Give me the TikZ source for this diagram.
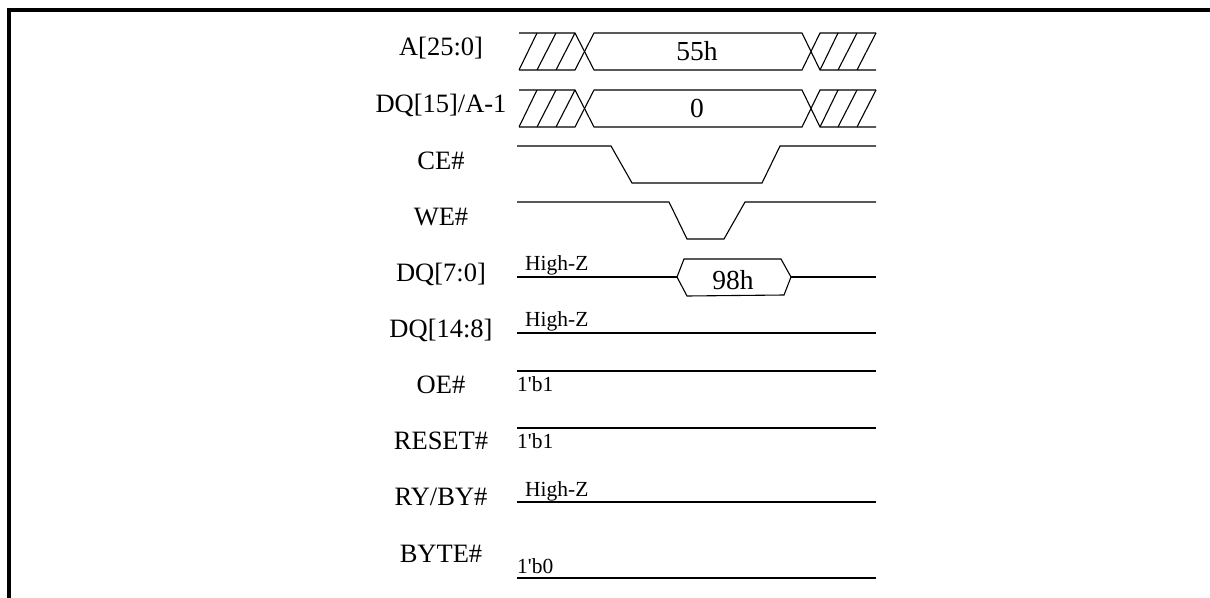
\documentclass[tikz,border=0pt]{standalone}
\usepackage{fontspec}
\setmainfont{Liberation Serif}
\newfontfamily\plainserif{Liberation Serif}
\begin{document}
\begin{tikzpicture}[x=1pt,y=-1pt,
  sig/.style={line width=1.1pt, line join=miter},
  lbl/.style={font=\fontsize{26.5}{30}\selectfont, inner sep=0pt, anchor=base},
  val/.style={font=\fontsize{27.5}{32}\selectfont, inner sep=0pt},
  smalltxt/.style={font=\plainserif\fontsize{21.5}{25}\selectfont, inner sep=0pt, anchor=base west}]
\useasboundingbox (0,0) rectangle (1210,597);
\draw[line width=3.7pt, line join=miter] (9.2,600) -- (9.2,9.8) -- (1212,9.8);

% labels
\node[lbl] (lA)   at (441,55)  {A[25:0]};
\node[lbl] (lDQ15) at (441,112) {DQ[15]/A-1};
\node[lbl] (lCE)  at (441,169) {CE\#};
\node[lbl] (lWE)  at (441,225) {WE\#};
\node[lbl] (lDQ7) at (441,281) {DQ[7:0]};
\node[lbl] (lDQ14) at (441,337) {DQ[14:8]};
\node[lbl] (lOE)  at (441,393) {OE\#};
\node[lbl] (lRST) at (441,449) {RESET\#};
\node[lbl] (lRY)  at (441,505) {RY/BY\#};
\node[lbl] (lBY)  at (441,562) {BYTE\#};

% bus rows
\foreach \t/\b in {33/70, 90/127}{
  \draw[sig] (519,\t) -- (575,\t) -- (594,\b) -- (802,\b) -- (820,\t) -- (876,\t);
  \draw[sig] (519,\b) -- (575,\b) -- (594,\t) -- (802,\t) -- (820,\b) -- (876,\b);
  \draw[sig] (519,\b) -- (537,\t) (537,\b) -- (556,\t) (556,\b) -- (575,\t)
             (820,\b) -- (838,\t) (838,\b) -- (857,\t) (857,\b) -- (876,\t);
}
\node[val] (vA) at (697,51.5) {55h};
\node[val] (vDQ15) at (697,108.5) {0};

% CE#
\draw[sig] (517,146) -- (611,146) -- (632,183) -- (762,183) -- (780,146) -- (876,146);
% WE#
\draw[sig] (517,202) -- (669,202) -- (687,239) -- (724,239) -- (745,202) -- (876,202);
% DQ[7:0]
\draw[sig] (517,277) -- (677,277);
\draw[sig] (677,277) -- (684,259) -- (781,259) -- (791,277) -- (784,295) -- (687,296) -- cycle;
\draw[sig] (791,277) -- (876,277);
\node[val] (vDQ7) at (733,280) {98h};
\node[smalltxt] (zDQ7) at (525,270) {High-Z};
% DQ[14:8]
\draw[sig] (517,333) -- (876,333);
\node[smalltxt] (zDQ14) at (525,326) {High-Z};
% OE#
\draw[sig] (517,371) -- (876,371);
\node[smalltxt] (bOE) at (517,391) {1'b1};
% RESET#
\draw[sig] (517,428) -- (876,428);
\node[smalltxt] (bRST) at (517,448) {1'b1};
% RY/BY#
\draw[sig] (517,502) -- (876,502);
\node[smalltxt] (zRY) at (525,496) {High-Z};
% BYTE#
\draw[sig] (517,578) -- (876,578);
\node[smalltxt] (bBY) at (517,573) {1'b0};
\end{tikzpicture}
\end{document}
